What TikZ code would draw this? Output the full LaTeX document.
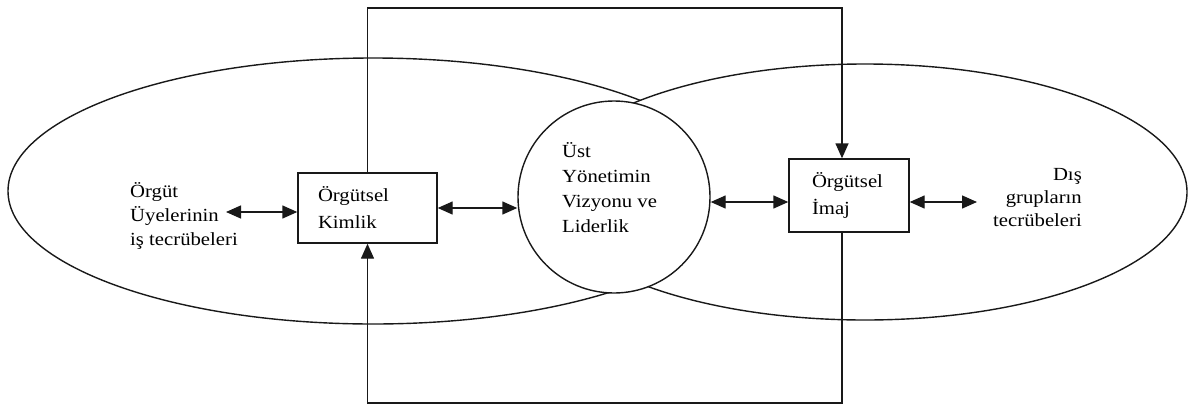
\documentclass[tikz,border=0pt]{standalone}
\usepackage{fontspec}
\setmainfont{Liberation Serif}[FakeStretch=1.12]
\usetikzlibrary{arrows.meta}
\begin{document}
\begin{tikzpicture}[x=1pt,y=-1pt,
  outline/.style={draw=black!90, line width=1.4pt},
  lbl/.style={inner sep=0pt, font=\fontsize{18.5}{24}\selectfont},
  boxnode/.style={outline, fill=white, rectangle, align=left, inner ysep=0pt,
    font=\fontsize{18.5}{27}\selectfont},
  tip/.tip={Triangle[length=15pt,width=13pt]},
  biarrow/.style={line width=1.4pt, draw=black!90, fill=black!90, tip-tip},
  toarrow/.style={line width=1.4pt, draw=black!90, -tip}]
\useasboundingbox (0,0) rectangle (1188,405);

% the two overlapping fields; the outer one is painted white so it covers the first
\draw[outline] (373,191) ellipse [x radius=365pt, y radius=133pt];
\draw[outline, fill=white] (865,192) ellipse [x radius=322pt, y radius=128pt];

% central circle
\node[outline, fill=white, circle, minimum size=192pt, inner sep=0pt] (lider) at (614,197) {};
\node[lbl, anchor=west, align=left, font=\fontsize{18.5}{25}\selectfont] (lidertext) at (562,188)
  {Üst\\Yönetimin\\Vizyonu ve\\Liderlik};

% boxes
\node[boxnode, text width=99pt, inner xsep=20pt, minimum height=70pt] (kimlik) at (367.5,208)
  {Örgütsel\\Kimlik};
\node[boxnode, text width=74pt, inner xsep=23pt, minimum height=73pt] (imaj) at (849,195.5)
  {Örgütsel\\İmaj};

% outer labels
\node[lbl, anchor=west, align=left] (uyeler) at (130,216)
  {Örgüt\\Üyelerinin\\iş tecrübeleri};
\node[lbl, anchor=east, align=right, font=\fontsize{18.5}{23}\selectfont] (dis) at (1082,198)
  {Dış\\grupların\\tecrübeleri};

% reference points for the connectors
\coordinate (uyeEnd) at (226,212);
\coordinate (rowR) at (0,202);
\coordinate (disEnd) at (977,202);
\coordinate (topR) at (842,8);
\coordinate (botR) at (842,403);

% horizontal two-way arrows
\draw[biarrow] (uyeEnd) -- (uyeEnd -| kimlik.west);
\draw[biarrow] (kimlik.east) -- (kimlik.east -| lider.west);
\draw[biarrow] (lider.east |- rowR) -- (imaj.west |- rowR);
\draw[biarrow] (imaj.east |- rowR) -- (disEnd);

% feedback loops over the top and under the bottom
\draw[toarrow] (kimlik.north) |- (topR) -- (topR |- imaj.north);
\draw[toarrow] (botR |- imaj.south) -- (botR) -| (kimlik.south);
\end{tikzpicture}
\end{document}
